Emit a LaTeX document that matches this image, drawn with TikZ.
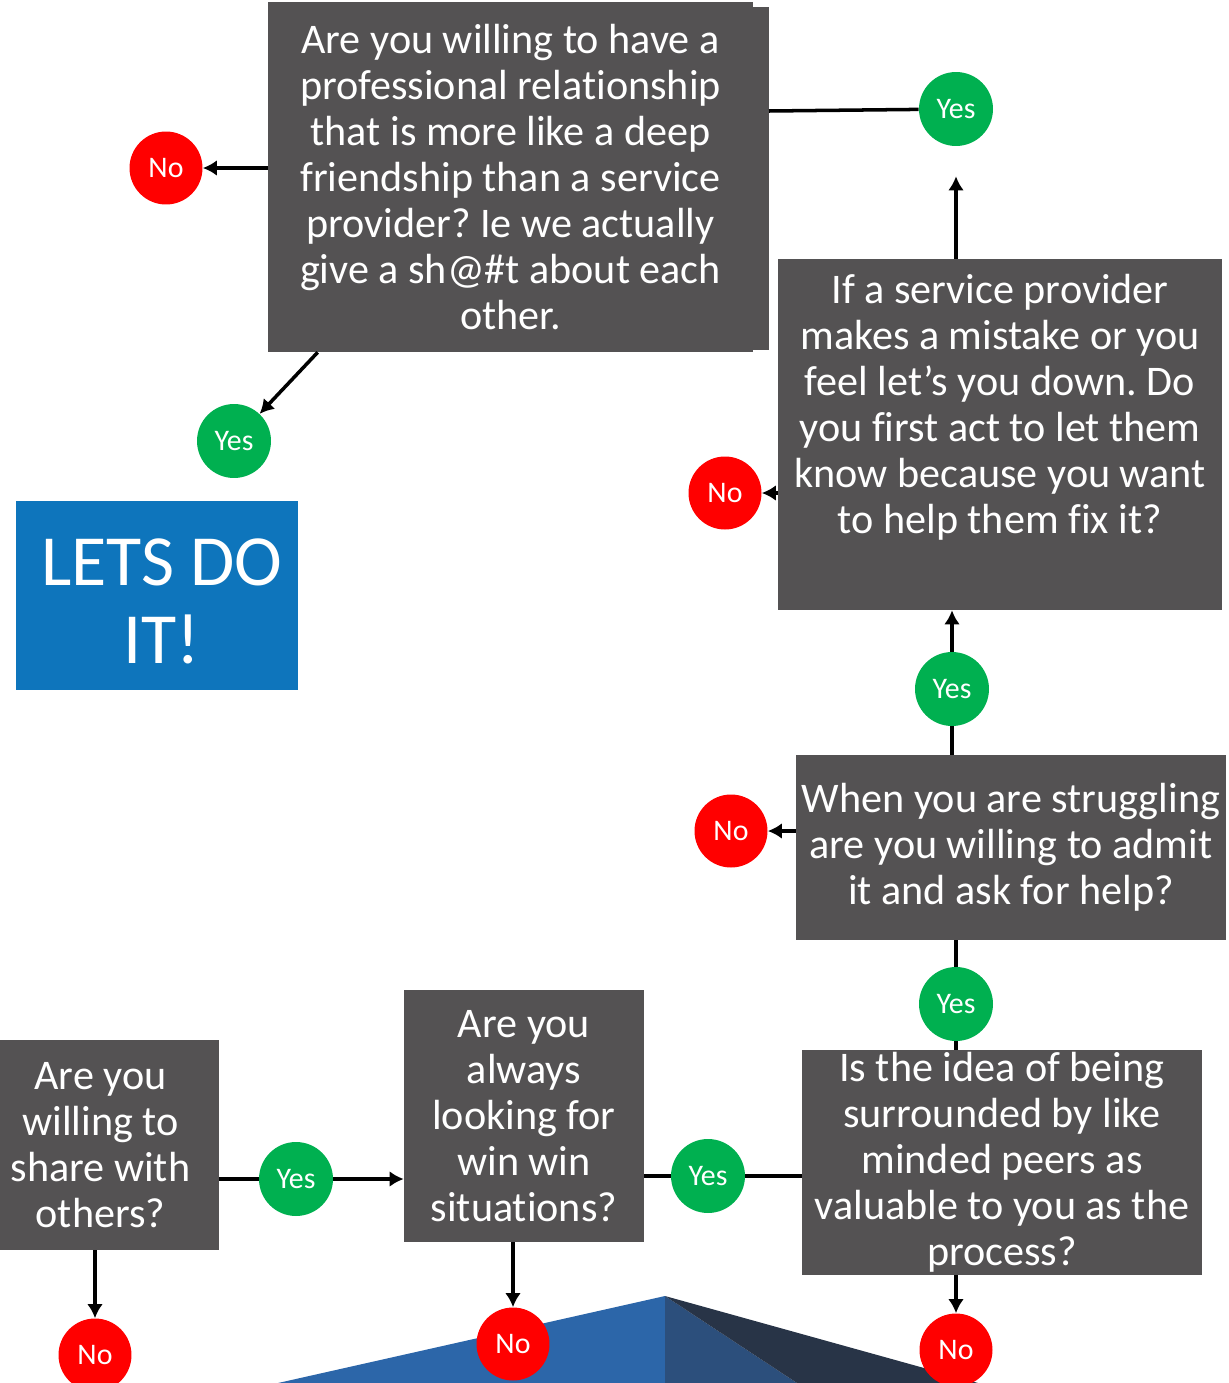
\documentclass[tikz,border=0pt]{standalone}
\usepackage{fontspec}
\setmainfont{Carlito}[Ligatures=NoCommon]
\frenchspacing
\usepackage{tikz}
\usetikzlibrary{positioning,arrows.meta}
\definecolor{fcGray}{RGB}{84,82,83}
\definecolor{fcRed}{RGB}{255,0,0}
\definecolor{fcGreen}{RGB}{0,176,80}
\definecolor{fcBlue}{RGB}{14,117,188}
\definecolor{fcSlopeL}{RGB}{44,102,169}
\definecolor{fcSlopeM}{RGB}{44,79,124}
\definecolor{fcSlopeR}{RGB}{40,52,71}

\tikzset{
  qbox/.style={fill=fcGray, text=white, align=center, inner sep=0pt,
    font=\fontsize{24}{26.2}\selectfont},
  qtext/.style={text=white, align=center, inner sep=0pt,
    font=\fontsize{24}{26.2}\selectfont},
  yesnode/.style={circle, fill=fcGreen, text=white, minimum size=1.48cm,
    inner sep=0pt, font=\fontsize{17}{20}\selectfont},
  nonode/.style={circle, fill=fcRed, text=white, minimum size=1.46cm,
    inner sep=0pt, font=\fontsize{17}{20}\selectfont},
  link/.style={line width=2pt},
  conn/.style={link, -{Latex[length=8pt,width=9pt]}}
}

\begin{document}
\begin{tikzpicture}[x=0.02cm, y=-0.02cm]
  \useasboundingbox (0,0) rectangle (1229,1383);

  % Pyramid peeking in at the bottom
  \fill[fcSlopeL] (278,1383) -- (665,1296) -- (665,1383) -- cycle;
  \fill[fcSlopeM] (665,1296) -- (797,1383) -- (665,1383) -- cycle;
  \fill[fcSlopeR] (665,1296) -- (978,1383) -- (797,1383) -- cycle;

  % Question boxes
  \fill[fcGray] (753,7) rectangle (769,350);
  \node[qbox, minimum width=9.7cm, minimum height=7cm] (willing) at (510.5,177) {
    Are you willing to have a\\ professional relationship\\ that is more like a deep\\
    friendship than a service\\ provider? Ie we actually\\ give a sh@\#t about each\\ other.};

  \node[qbox, minimum width=8.88cm, minimum height=7.02cm] (provider) at (1000,434.5) {};
  \node[qtext, anchor=north] (provider-text) at ([yshift=-0.3cm]provider.north) {
    If a service provider\\ makes a mistake or you\\ feel let’s you down. Do\\
    you first act to let them\\ know because you want\\ to help them fix it?};

  \node[qbox, minimum width=8.6cm, minimum height=3.7cm] (struggling) at (1011,847.5) {
    When you are struggling\\ are you willing to admit\\ it and ask for help?};

  \node[qbox, minimum width=8cm, minimum height=4.5cm] (peers) at (1002,1162.5) {
    Is the idea of being\\ surrounded by like\\ minded peers as\\
    valuable to you as the\\ process?};

  \node[qbox, minimum width=4.8cm, minimum height=5.04cm] (winwin) at (524,1116) {
    Are you\\ always\\ looking for\\ win win\\ situations?};

  \node[qbox, minimum width=4.74cm, minimum height=4.2cm] (share) at (100.5,1145) {
    Are you\\ willing to\\ share with\\ others?};

  % Goal
  \node[fill=fcBlue, minimum width=5.64cm, minimum height=3.78cm] (doit) at (157,595.5) {};
  \node[text=white, align=center, inner sep=0pt,
        font=\fontsize{41}{44.8}\selectfont] (doit-text)
        at ([xshift=0.1cm,yshift=-0.12cm]doit.center) {LETS DO\\ IT!};

  % Answers
  \node[nonode] (no-willing) at (166,168) {No};
  \node[yesnode] (yes-top) at (956,109) {Yes};
  \node[yesnode] (yes-willing) at (234,441) {Yes};
  \node[nonode] (no-provider) at (725,493) {No};
  \node[yesnode] (yes-struggle) at (952,689) {Yes};
  \node[nonode] (no-struggle) at (731,831) {No};
  \node[yesnode] (yes-peers) at (956,1004) {Yes};
  \node[yesnode] (yes-winwin) at (708,1176) {Yes};
  \node[yesnode] (yes-share) at (296,1179) {Yes};
  \node[nonode] (no-share) at (95,1355) {No};
  \node[nonode] (no-winwin) at (513,1344) {No};
  \node[nonode] (no-peers) at (956,1350) {No};

  % Connectors
  \draw[conn] (willing.west |- no-willing) -- (no-willing);
  \draw[link] (769,111) -- (yes-top);
  \draw[conn] ([xshift=1cm]willing.south west) -- (yes-willing);
  \draw[conn] (provider.north -| yes-top) -- ([yshift=-0.6cm]yes-top.south);
  \draw[conn] (provider.west |- no-provider) -- (no-provider);
  \draw[link] (struggling.north -| yes-struggle) -- (yes-struggle);
  \draw[conn] (yes-struggle) -- (yes-struggle |- provider.south);
  \draw[conn] (struggling.west |- no-struggle) -- (no-struggle);
  \draw[link] (struggling.south -| yes-peers) -- (yes-peers) -- (yes-peers |- peers.north);
  \draw[link] (peers.west |- yes-winwin) -- (yes-winwin) -- (yes-winwin -| winwin.east);
  \draw[link] (share.east |- yes-share) -- (yes-share);
  \draw[conn] (yes-share) -- (yes-share -| winwin.west);
  \draw[conn] (share.south -| no-share) -- (no-share);
  \draw[conn] (winwin.south -| no-winwin) -- (no-winwin);
  \draw[conn] (peers.south -| no-peers) -- (no-peers);
\end{tikzpicture}
\end{document}
